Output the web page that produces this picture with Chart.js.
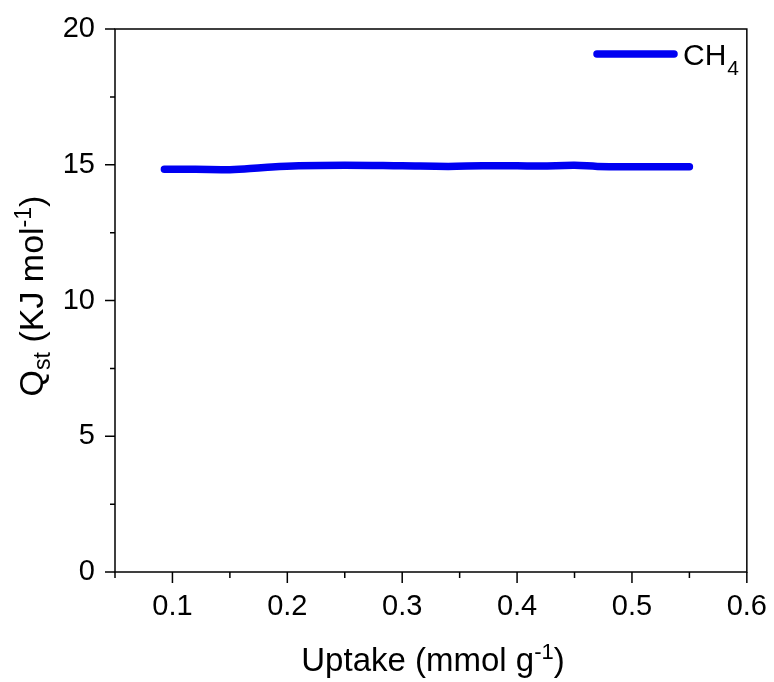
<!DOCTYPE html>
<html>
<head>
<meta charset="utf-8">
<script src="https://cdn.jsdelivr.net/npm/chart.js@4"></script>
<style>
  html, body { margin: 0; padding: 0; background: #fff; }
</style>
</head>
<body>
<canvas id="grafico" width="774" height="682"></canvas>
<script>
// datos
const uptake = [0.093, 0.12, 0.15, 0.18, 0.21, 0.25, 0.30, 0.34, 0.37, 0.40, 0.42, 0.45, 0.47, 0.50, 0.55];
const qst = [14.83, 14.83, 14.82, 14.90, 14.96, 14.98, 14.96, 14.94, 14.96, 14.96, 14.95, 14.98, 14.94, 14.93, 14.93];
const xMajor = [0.1, 0.2, 0.3, 0.4, 0.5, 0.6];
const yMajor = [0, 5, 10, 15, 20];
const serie = ['CH', '4'];

const fuente = '"Liberation Sans", Arial, sans-serif';
const azul = '#0000f2';

// texto con subindices / superindices
function textoRico(ctx, partes, x, y, size) {
  let ancho = 0;
  partes.forEach(function(p) {
    ctx.font = (p.m ? Math.round(size * 0.68) : size) + 'px ' + fuente;
    p.w = ctx.measureText(p.t).width;
    ancho += p.w;
  });
  let cx = x - ancho / 2;
  partes.forEach(function(p) {
    ctx.font = (p.m ? Math.round(size * 0.68) : size) + 'px ' + fuente;
    let dy = 0;
    if (p.m == 'sup') dy = -size * 0.36;
    if (p.m == 'sub') dy = size * 0.22;
    ctx.fillText(p.t, cx, y + dy);
    cx += p.w;
  });
}

const extras = {
  id: 'extras',
  afterDraw: function(chart) {
    const ctx = chart.ctx;
    const a = chart.chartArea;
    const sx = chart.scales.x;
    const sy = chart.scales.y;
    ctx.save();
    ctx.strokeStyle = '#000';
    ctx.lineWidth = 1.5;
    ctx.strokeRect(a.left, a.top, a.right - a.left, a.bottom - a.top);

    // marcas mayores y menores
    ctx.beginPath();
    xMajor.forEach(function(v) {
      const px = sx.getPixelForValue(v);
      ctx.moveTo(px, a.bottom); ctx.lineTo(px, a.bottom + 11);
      const pm = sx.getPixelForValue(v - 0.05);
      ctx.moveTo(pm, a.bottom); ctx.lineTo(pm, a.bottom + 6);
    });
    yMajor.forEach(function(v, i) {
      const py = sy.getPixelForValue(v);
      ctx.moveTo(a.left, py); ctx.lineTo(a.left - 10, py);
      if (i > 0) {
        const pm = sy.getPixelForValue(v - 2.5);
        ctx.moveTo(a.left, pm); ctx.lineTo(a.left - 5, pm);
      }
    });
    ctx.stroke();

    // titulos de ejes
    ctx.fillStyle = '#000';
    ctx.textBaseline = 'alphabetic';
    ctx.textAlign = 'left';
    textoRico(ctx, [{t: 'Uptake (mmol g'}, {t: '-1', m: 'sup'}, {t: ')'}], 433, 671, 33);
    ctx.save();
    ctx.translate(43, 296);
    ctx.rotate(-Math.PI / 2);
    textoRico(ctx, [{t: 'Q'}, {t: 'st', m: 'sub'}, {t: ' (KJ mol'}, {t: '-1', m: 'sup'}, {t: ')'}], 0, 0, 34);
    ctx.restore();

    // leyenda
    ctx.strokeStyle = azul;
    ctx.lineWidth = 7.5;
    ctx.lineCap = 'round';
    ctx.beginPath();
    ctx.moveTo(597, 54); ctx.lineTo(674, 54);
    ctx.stroke();
    ctx.font = '30px ' + fuente;
    ctx.fillText(serie[0], 683, 65);
    const w = ctx.measureText(serie[0]).width;
    ctx.font = '21px ' + fuente;
    ctx.fillText(serie[1], 684 + w, 75);
    ctx.restore();
  }
};

const ctx = document.querySelector('#grafico');
const grafico = new Chart(ctx, {
  type: 'line',
  data: {
    datasets: [{
      data: uptake.map(function(x, i) { return {x: x, y: qst[i]}; }),
      borderColor: azul,
      borderWidth: 7.5,
      borderCapStyle: 'round',
      borderJoinStyle: 'round',
      pointRadius: 0,
      tension: 0.4,
      fill: false
    }]
  },
  options: {
    responsive: false,
    animation: false,
    devicePixelRatio: 1,
    layout: { padding: { top: 29, right: 24, left: 0, bottom: 0 } },
    plugins: { legend: { display: false }, tooltip: { enabled: false } },
    scales: {
      x: {
        type: 'linear',
        min: 0.05,
        max: 0.6,
        afterBuildTicks: function(s) { s.ticks = xMajor.map(function(v) { return {value: v}; }); },
        afterFit: function(s) { s.height = 110; },
        grid: { drawOnChartArea: false, color: 'rgba(0,0,0,0)', tickLength: 11 },
        border: { display: false },
        ticks: {
          padding: 7,
          color: '#000',
          maxRotation: 0,
          font: { family: fuente, size: 29 },
          callback: function(v) { return v.toFixed(1); }
        }
      },
      y: {
        min: 0,
        max: 20,
        afterBuildTicks: function(s) { s.ticks = yMajor.map(function(v) { return {value: v}; }); },
        afterFit: function(s) { s.width = 115; },
        grid: { drawOnChartArea: false, color: 'rgba(0,0,0,0)', tickLength: 10 },
        border: { display: false },
        ticks: {
          padding: 10,
          color: '#000',
          font: { family: fuente, size: 29 },
          callback: function(v) { return v; }
        }
      }
    }
  },
  plugins: [extras]
});
</script>
</body>
</html>
